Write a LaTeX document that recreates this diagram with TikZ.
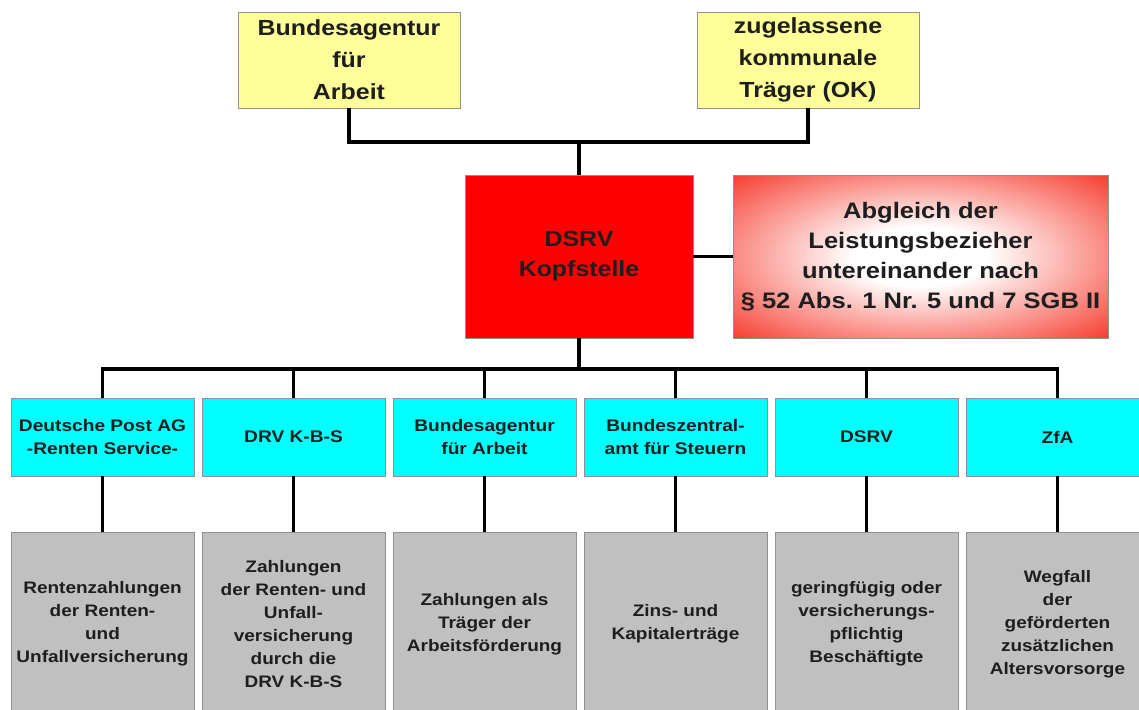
\documentclass[tikz,border=0pt]{standalone}
\usepackage{fontspec}
\setmainfont{Liberation Sans}[FakeStretch=1.14]
\definecolor{yel}{HTML}{FFFF99}
\definecolor{dsred}{HTML}{FF0000}
\definecolor{abred}{RGB}{245,35,20}
\definecolor{cyanbox}{HTML}{00FFFF}
\definecolor{graybox}{HTML}{C0C0C0}
\definecolor{txt}{HTML}{1E1E1E}
\definecolor{border}{HTML}{909090}
\pgfdeclareradialshading{abshade}{\pgfpoint{0bp}{0bp}}{color(0bp)=(white); color(9bp)=(white); color(39bp)=(abred); color(50bp)=(abred)}
\begin{document}
\begin{tikzpicture}[x=0.75pt,y=-0.75pt,
  box/.style={draw=border, line width=0.7pt, align=center, inner sep=0pt, text=txt},
  ybox/.style={box, fill=yel, minimum width=166.5pt, minimum height=72pt, font=\fontsize{16.4}{24}\selectfont\bfseries},
  rbox/.style={box, fill=dsred, minimum width=171pt, minimum height=122.25pt, font=\fontsize{16.4}{22.5}\selectfont\bfseries},
  abox/.style={box, shading=abshade, minimum width=281.25pt, minimum height=122.25pt, font=\fontsize{16.8}{22.5}\selectfont\bfseries},
  cbox/.style={box, fill=cyanbox, minimum width=137.25pt, minimum height=58.5pt, font=\fontsize{12.6}{17}\selectfont\bfseries},
  gbox/.style={box, fill=graybox, minimum width=137.25pt, minimum height=138pt, font=\fontsize{12.5}{17.25}\selectfont\bfseries},
  conn/.style={line width=2.4pt, draw=black}
]
\useasboundingbox (0,0) rectangle (1139,710);
\clip (0,0) rectangle (1139,710);

% top level
\node[ybox] (yl) at (349,60) {Bundesagentur\\für\\Arbeit};
\node[ybox] (yr) at (808,60) {zugelassene\\kommunale\\Träger (OK)};

% middle level
\node[rbox] (ds) at (579,256.5) {DSRV\\Kopfstelle};
\node[abox] (ab) at (920.5,256.5) {Abgleich der\\Leistungsbezieher\\untereinander nach\\§ 52 Abs. 1 Nr. 5 und 7 SGB II};

% cyan row
\node[cbox] (c1) at (102.5,437) {Deutsche Post AG\\-Renten Service-};
\node[cbox] (c2) at (293.5,437) {DRV K-B-S};
\node[cbox] (c3) at (484.5,437) {Bundesagentur\\für Arbeit};
\node[cbox] (c4) at (675.5,437) {Bundeszentral-\\amt für Steuern};
\node[cbox] (c5) at (866.5,437) {DSRV};
\node[cbox] (c6) at (1057.5,437) {ZfA};

% gray row
\node[gbox] (g1) at (102.5,624) {Rentenzahlungen\\der Renten-\\und\\Unfallversicherung};
\node[gbox] (g2) at (293.5,624) {Zahlungen\\der Renten- und\\Unfall-\\versicherung\\durch die\\DRV K-B-S};
\node[gbox] (g3) at (484.5,624) {Zahlungen als\\Träger der\\Arbeitsförderung};
\node[gbox] (g4) at (675.5,624) {Zins- und\\Kapitalerträge};
\node[gbox] (g5) at (866.5,624) {geringfügig oder\\versicherungs-\\pflichtig\\Beschäftigte};
\node[gbox] (g6) at (1057.5,624) {Wegfall\\der\\geförderten\\zusätzlichen\\Altersvorsorge};

% connectors
\coordinate (top) at (579,142);
\draw[conn] (yl.south) |- (top) -| (yr.south);
\draw[conn] (top) -- (ds.north);
\draw[conn] (ds.east) -- (ab.west);

\coordinate (bus) at (579,369);
\draw[conn] (ds.south) -- (bus);
\draw[conn] (c1.north) |- (bus) -| (c6.north);
\foreach \i in {2,3,4,5}{
  \draw[conn] (c\i.north) -- (c\i.north |- bus);
}
\foreach \i in {1,...,6}{
  \draw[conn] (c\i.south) -- (g\i.north);
}
\end{tikzpicture}
\end{document}
